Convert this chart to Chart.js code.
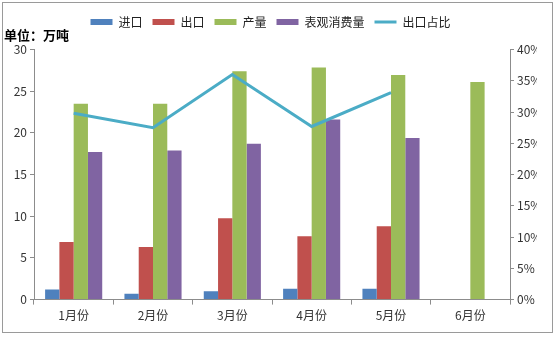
<!DOCTYPE html>
<html>
<head>
<meta charset="utf-8">
<script src="https://cdn.jsdelivr.net/npm/chart.js@4"></script>
<style>
  body { margin: 0; background: #fff; }
  canvas { display: block; }
</style>
</head>
<body>
<canvas id="chart" width="557" height="338"></canvas>
<script>
const months = ['1月份', '2月份', '3月份', '4月份', '5月份', '6月份'];
const imports = [1.2, 0.7, 1.0, 1.3, 1.3, null];
const exports = [6.9, 6.3, 9.75, 7.6, 8.8, null];
const output = [23.5, 23.5, 27.4, 27.85, 26.95, 26.1];
const consumption = [17.7, 17.9, 18.7, 21.6, 19.4, null];
const exportShare = [29.8, 27.5, 36.0, 27.7, 33.1, null];

const font = "'Noto Sans CJK SC', 'Noto Sans', sans-serif";
const axisGray = '#8c8c8c';

const frame = {
  id: 'frame',
  afterDraw(chart) {
    const ctx = chart.ctx;
    ctx.save();
    ctx.strokeStyle = '#9a9a9a';
    ctx.lineWidth = 1;
    ctx.strokeRect(2.5, 2.5, 550, 330);
    ctx.restore();
  }
};

const bar = (label, data, color) => ({
  type: 'bar', label, data, backgroundColor: color, borderWidth: 0,
  yAxisID: 'y', order: 1, categoryPercentage: 0.72, barPercentage: 1.0
});

new Chart(document.getElementById('chart').getContext('2d'), {
  data: {
    labels: months,
    datasets: [
      bar('进口', imports, '#4f81bd'),
      bar('出口', exports, '#c0504d'),
      bar('产量', output, '#9bbb59'),
      bar('表观消费量', consumption, '#8064a2'),
      {
        type: 'line', label: '出口占比', data: exportShare,
        borderColor: '#4bacc6', backgroundColor: '#4bacc6', borderWidth: 3,
        pointRadius: 0, pointBorderWidth: 3, tension: 0, yAxisID: 'y2', order: 0
      }
    ]
  },
  options: {
    responsive: false,
    animation: false,
    layout: { padding: { top: 6, left: 4, right: 20, bottom: 11 } },
    plugins: {
      tooltip: { enabled: false },
      legend: {
        position: 'top',
        weight: 1000,
        labels: {
          usePointStyle: true,
          pointStyleWidth: 22,
          boxHeight: 6,
          padding: 10,
          color: '#222',
          font: { family: font, size: 12 },
          generateLabels: chart => Chart.defaults.plugins.legend.labels.generateLabels(chart)
            .sort((a, b) => a.datasetIndex - b.datasetIndex)
            .map(item => {
              const line = chart.data.datasets[item.datasetIndex].type === 'line';
              item.pointStyle = line ? 'line' : 'rect';
              item.lineWidth = line ? 3 : 0;
              item.strokeStyle = line ? '#4bacc6' : item.fillStyle;
              return item;
            })
        }
      },
      title: {
        display: true,
        weight: 500,
        text: '单位：万吨',
        align: 'start',
        color: '#000',
        font: { family: font, size: 13, weight: 'bold' },
        padding: { top: -11, bottom: 7 }
      }
    },
    scales: {
      x: {
        offset: true,
        grid: { offset: true, drawOnChartArea: false, drawTicks: true, tickLength: 5, color: axisGray },
        border: { color: axisGray },
        ticks: { color: '#333', font: { family: font, size: 12 }, padding: 4 }
      },
      y: {
        position: 'left',
        min: 0, max: 30,
        afterFit: s => { s.width = 30; },
        ticks: { stepSize: 5, color: '#333', font: { family: font, size: 12 }, padding: 3 },
        grid: { drawOnChartArea: false, drawTicks: true, tickLength: 4, color: axisGray },
        border: { color: axisGray }
      },
      y2: {
        position: 'right',
        min: 0, max: 40,
        afterFit: s => { s.width = 27; },
        ticks: { stepSize: 5, color: '#333', font: { family: font, size: 12 }, padding: 3,
          callback: v => v + '%' },
        grid: { drawOnChartArea: false, drawTicks: true, tickLength: 4, color: axisGray },
        border: { color: axisGray }
      }
    }
  },
  plugins: [frame]
});
</script>
</body>
</html>
